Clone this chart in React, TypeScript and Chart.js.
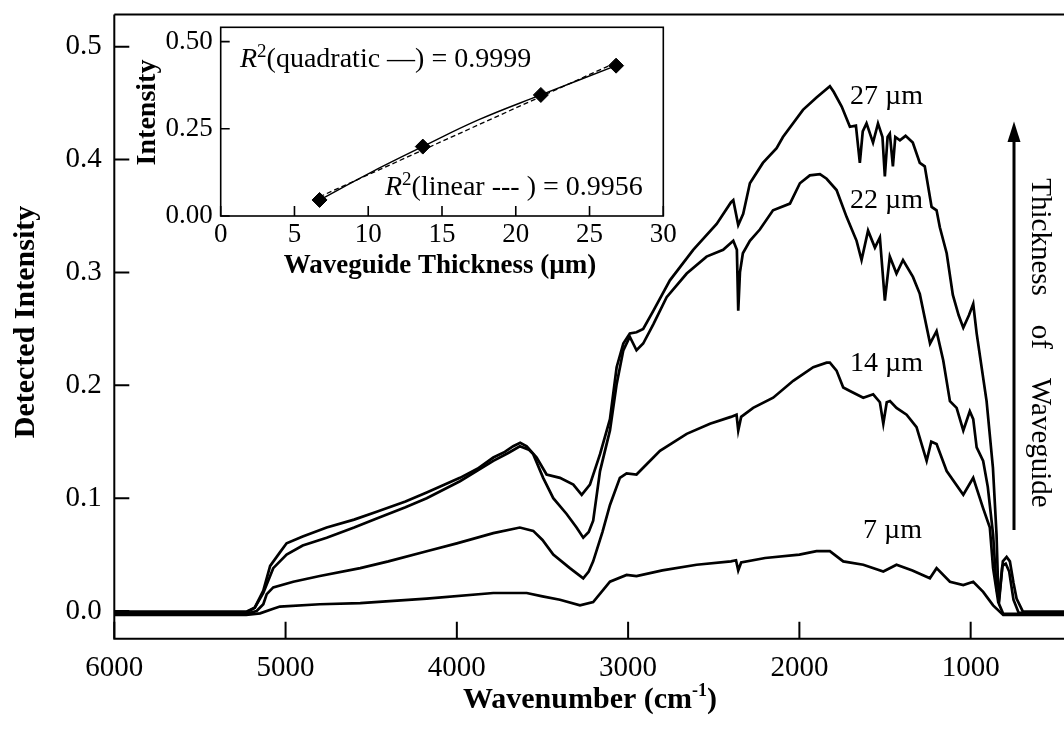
import React, { useEffect, useRef } from "react";
import { Chart, registerables } from "chart.js";

Chart.register(...registerables);

const SERIF = '"Liberation Serif", "Times New Roman", Times, serif';

// ---------- main spectra (wavenumber cm-1, detected intensity) ----------
const wn27 = [6000, 5230, 5180, 5130, 5090, 5033, 4994, 4900, 4760, 4600, 4468, 4300, 4176, 3982, 3880, 3787, 3720, 3671, 3630, 3592, 3534, 3476, 3398, 3320, 3271, 3223, 3164, 3106, 3067, 3028, 2990, 2951, 2912, 2853, 2756, 2620, 2483, 2400, 2386, 2357, 2328, 2289, 2213, 2133, 2096, 1979, 1900, 1822, 1800, 1753, 1705, 1670, 1647, 1630, 1608, 1570, 1541, 1515, 1501, 1485, 1472, 1454, 1440, 1413, 1380, 1338, 1297, 1268, 1228, 1199, 1180, 1140, 1104, 1070, 1043, 1010, 985, 965, 907, 870, 849, 840, 830, 812, 790, 771, 750, 732, 695, 455];
const int27 = [-0.0005, -0.0005, 0.003, 0.018, 0.04, 0.052, 0.06, 0.066, 0.074, 0.081, 0.088, 0.097, 0.105, 0.118, 0.126, 0.136, 0.141, 0.146, 0.149, 0.146, 0.136, 0.121, 0.118, 0.112, 0.103, 0.112, 0.139, 0.17, 0.216, 0.237, 0.246, 0.247, 0.25, 0.266, 0.293, 0.32, 0.343, 0.362, 0.364, 0.342, 0.352, 0.379, 0.397, 0.41, 0.42, 0.444, 0.455, 0.465, 0.46, 0.447, 0.429, 0.43, 0.397, 0.425, 0.432, 0.415, 0.432, 0.42, 0.385, 0.42, 0.423, 0.394, 0.42, 0.417, 0.421, 0.415, 0.397, 0.394, 0.358, 0.355, 0.34, 0.317, 0.28, 0.262, 0.251, 0.262, 0.272, 0.246, 0.186, 0.127, 0.068, 0.023, 0.015, 0.044, 0.048, 0.044, 0.025, 0.011, -0.0005, -0.0005];

const wn22 = [6000, 5230, 5180, 5130, 5072, 4994, 4900, 4760, 4600, 4468, 4300, 4176, 3982, 3787, 3700, 3632, 3580, 3554, 3496, 3437, 3359, 3301, 3262, 3230, 3204, 3164, 3106, 3067, 3028, 2990, 2951, 2912, 2853, 2775, 2658, 2542, 2445, 2386, 2365, 2357, 2347, 2330, 2289, 2231, 2154, 2055, 1997, 1939, 1880, 1841, 1783, 1724, 1666, 1637, 1599, 1559, 1530, 1501, 1472, 1433, 1395, 1337, 1297, 1237, 1199, 1160, 1121, 1082, 1043, 1005, 985, 965, 927, 900, 869, 849, 835, 815, 795, 775, 750, 720, 455];
const int22 = [-0.0015, -0.0015, 0.003, 0.016, 0.038, 0.05, 0.058, 0.065, 0.074, 0.082, 0.092, 0.1, 0.115, 0.133, 0.14, 0.146, 0.143, 0.139, 0.118, 0.1, 0.086, 0.074, 0.065, 0.07, 0.08, 0.124, 0.16, 0.201, 0.231, 0.243, 0.231, 0.237, 0.254, 0.278, 0.299, 0.314, 0.32, 0.328, 0.32, 0.266, 0.3, 0.317, 0.328, 0.338, 0.355, 0.361, 0.379, 0.386, 0.387, 0.383, 0.373, 0.349, 0.328, 0.311, 0.337, 0.322, 0.331, 0.275, 0.314, 0.299, 0.311, 0.296, 0.281, 0.237, 0.248, 0.222, 0.186, 0.18, 0.16, 0.177, 0.17, 0.145, 0.133, 0.11, 0.068, 0.02, 0.01, 0.04, 0.042, 0.035, 0.01, -0.0015, -0.0015];

const wn14 = [6000, 5230, 5169, 5130, 5110, 5072, 4955, 4800, 4564, 4400, 4176, 4000, 3787, 3632, 3554, 3500, 3437, 3340, 3262, 3230, 3204, 3150, 3106, 3048, 3009, 2951, 2912, 2814, 2658, 2522, 2400, 2367, 2357, 2340, 2270, 2153, 2036, 1919, 1841, 1822, 1783, 1744, 1705, 1627, 1569, 1530, 1510, 1490, 1471, 1433, 1374, 1316, 1257, 1230, 1199, 1140, 1043, 985, 927, 888, 869, 839, 810, 455];
const int14 = [-0.0025, -0.0025, 0.0, 0.006, 0.015, 0.021, 0.026, 0.031, 0.038, 0.044, 0.053, 0.06, 0.069, 0.074, 0.071, 0.063, 0.05, 0.038, 0.029, 0.035, 0.044, 0.07, 0.094, 0.118, 0.122, 0.121, 0.127, 0.142, 0.157, 0.166, 0.172, 0.174, 0.16, 0.172, 0.18, 0.189, 0.204, 0.216, 0.22, 0.22, 0.213, 0.198, 0.195, 0.189, 0.192, 0.185, 0.166, 0.185, 0.186, 0.18, 0.174, 0.163, 0.133, 0.15, 0.148, 0.124, 0.103, 0.118, 0.091, 0.074, 0.038, 0.008, -0.0025, -0.0025];

const wn7 = [6000, 5230, 5149, 5072, 5033, 4800, 4564, 4176, 3787, 3592, 3500, 3398, 3281, 3204, 3106, 3009, 2951, 2800, 2600, 2400, 2370, 2357, 2340, 2200, 2000, 1900, 1822, 1744, 1627, 1510, 1433, 1340, 1238, 1199, 1121, 1043, 985, 927, 869, 810, 455];
const int7 = [-0.0035, -0.0035, -0.002, 0.002, 0.004, 0.006, 0.007, 0.011, 0.016, 0.016, 0.013, 0.01, 0.005, 0.008, 0.026, 0.032, 0.031, 0.036, 0.041, 0.044, 0.045, 0.036, 0.043, 0.047, 0.05, 0.053, 0.053, 0.044, 0.041, 0.035, 0.041, 0.036, 0.029, 0.038, 0.026, 0.023, 0.026, 0.017, 0.005, -0.0035, -0.0035];

const seriesLabels = ["27 \u00B5m", "22 \u00B5m", "14 \u00B5m", "7 \u00B5m"];
const xTickValues = [6000, 5000, 4000, 3000, 2000, 1000];
const yTickValues = [0, 0.1, 0.2, 0.3, 0.4, 0.5];
const xMin = 455;
const xMax = 6000;
const yMin = -0.0245;
const yMax = 0.5285;

// ---------- inset ----------
const insetThickness = [6.7, 13.7, 21.7, 26.8];
const insetIntensity = [0.046, 0.199, 0.347, 0.431];
const quadFitX = [6.7, 10, 13.7, 17.5, 21.7, 26.8];
const quadFitY = [0.046, 0.121, 0.199, 0.276, 0.347, 0.431];
const linFitX = [6.7, 26.8];
const linFitY = [0.055, 0.44];
const insetXTickValues = [0, 5, 10, 15, 20, 25, 30];
const insetYTickValues = [0, 0.25, 0.5];
const insetXMin = 0;
const insetXMax = 30;
const insetYMin = 0;
const insetYMax = 0.541;

const pts = (xs: number[], ys: number[]) => xs.map((x, i) => ({ x, y: ys[i] }));
const setTicks = (vals: number[]) => (s: any) => {
  s.ticks = vals.map((v) => ({ value: v }));
};

type Run = [string, string, number?];
function drawRuns(ctx: CanvasRenderingContext2D, runs: Run[], x: number, y: number, align: "left" | "center") {
  let total = 0;
  for (const r of runs) {
    ctx.font = r[1];
    total += ctx.measureText(r[0]).width;
  }
  let cx = align === "center" ? x - total / 2 : x;
  ctx.textAlign = "left";
  ctx.textBaseline = "alphabetic";
  for (const r of runs) {
    ctx.font = r[1];
    ctx.fillText(r[0], cx, y + (r[2] || 0));
    cx += ctx.measureText(r[0]).width;
  }
}

const mainDecor = {
  id: "mainDecor",
  afterDraw(chart: any) {
    const { ctx, chartArea: a, scales } = chart;
    ctx.save();
    ctx.strokeStyle = "#000";
    ctx.fillStyle = "#000";
    ctx.lineWidth = 2;
    ctx.beginPath();
    ctx.moveTo(a.left, a.top);
    ctx.lineTo(a.right, a.top);
    ctx.moveTo(a.left, a.top);
    ctx.lineTo(a.left, a.bottom);
    ctx.lineTo(a.right, a.bottom);
    ctx.stroke();
    ctx.beginPath();
    scales.x.ticks.forEach((t: any) => {
      const p = scales.x.getPixelForValue(t.value);
      ctx.moveTo(p, a.bottom);
      ctx.lineTo(p, a.bottom - 17);
    });
    scales.y.ticks.forEach((t: any) => {
      const p = scales.y.getPixelForValue(t.value);
      ctx.moveTo(a.left, p);
      ctx.lineTo(a.left + 15, p);
    });
    ctx.stroke();

    // axis titles
    drawRuns(ctx, [["Wavenumber (cm", `bold 30px ${SERIF}`], ["-1", `bold 18px ${SERIF}`, -12], [")", `bold 30px ${SERIF}`]], 590, 708, "center");
    ctx.save();
    ctx.translate(34.4, 322);
    ctx.rotate(-Math.PI / 2);
    drawRuns(ctx, [["Detected Intensity", `bold 30px ${SERIF}`]], 0, 0, "center");
    ctx.restore();

    // series labels
    const lab: [number, number][] = [[850, 104.3], [850, 207.7], [850, 371], [863, 537.7]];
    seriesLabels.forEach((s, i) => {
      drawRuns(ctx, [[s, `28px ${SERIF}`]], lab[i][0], lab[i][1], "left");
    });

    // arrow
    ctx.lineWidth = 3;
    ctx.beginPath();
    ctx.moveTo(1014, 530);
    ctx.lineTo(1014, 136);
    ctx.stroke();
    ctx.beginPath();
    ctx.moveTo(1014, 121.5);
    ctx.lineTo(1007.5, 142);
    ctx.lineTo(1020.5, 142);
    ctx.closePath();
    ctx.fill();

    ctx.save();
    ctx.translate(1032, 343);
    ctx.rotate(Math.PI / 2);
    drawRuns(ctx, [["Thickness    of    Waveguide", `29px ${SERIF}`]], 0, 0, "center");
    ctx.restore();
    ctx.restore();
  },
};

const insetDecor = {
  id: "insetDecor",
  beforeDraw(chart: any) {
    const { ctx, chartArea: a } = chart;
    ctx.save();
    ctx.fillStyle = "#fff";
    ctx.fillRect(a.left, a.top, a.right - a.left, a.bottom - a.top);
    ctx.restore();
  },
  afterDraw(chart: any) {
    const { ctx, chartArea: a, scales } = chart;
    ctx.save();
    ctx.strokeStyle = "#000";
    ctx.fillStyle = "#000";
    ctx.lineWidth = 1.6;
    ctx.strokeRect(a.left, a.top, a.right - a.left, a.bottom - a.top);
    ctx.beginPath();
    scales.x.ticks.forEach((t: any) => {
      const p = scales.x.getPixelForValue(t.value);
      ctx.moveTo(p, a.bottom);
      ctx.lineTo(p, a.bottom - 10);
    });
    scales.y.ticks.forEach((t: any) => {
      const p = scales.y.getPixelForValue(t.value);
      ctx.moveTo(a.left, p);
      ctx.lineTo(a.left + 9, p);
    });
    ctx.stroke();

    drawRuns(ctx, [["Waveguide Thickness (\u00B5m)", `bold 27px ${SERIF}`]], 340, 273, "center");
    ctx.save();
    ctx.translate(55.4, 112.5);
    ctx.rotate(-Math.PI / 2);
    drawRuns(ctx, [["Intensity", `bold 28px ${SERIF}`]], 0, 0, "center");
    ctx.restore();

    drawRuns(ctx, [["R", `italic 28px ${SERIF}`], ["2", `19px ${SERIF}`, -10], ["(quadratic \u2014) = 0.9999", `28px ${SERIF}`]], 140, 66.5, "left");
    drawRuns(ctx, [["R", `italic 28px ${SERIF}`], ["2", `19px ${SERIF}`, -10], ["(linear --- ) = 0.9956", `28px ${SERIF}`]], 285, 195, "left");
    ctx.restore();
  },
};

export default function App() {
  const mainRef = useRef<HTMLCanvasElement>(null);
  const insetRef = useRef<HTMLCanvasElement>(null);

  useEffect(() => {
    const ds = (xs: number[], ys: number[]) => ({
      data: pts(xs, ys),
      borderColor: "#000",
      borderWidth: 2.7,
      pointRadius: 0,
      fill: false,
      tension: 0,
    });
    const noGrid = { display: false, drawTicks: false };
    const main = new Chart(mainRef.current as HTMLCanvasElement, {
      type: "line",
      data: {
        datasets: [ds(wn7, int7), ds(wn14, int14), ds(wn22, int22), ds(wn27, int27)],
      },
      options: {
        animation: false,
        responsive: false,
        maintainAspectRatio: false,
        layout: { padding: { top: 14.5, right: 0, left: 0, bottom: 0 } },
        plugins: { legend: { display: false }, tooltip: { enabled: false } },
        scales: {
          x: {
            type: "linear",
            reverse: true,
            min: xMin,
            max: xMax,
            grid: noGrid,
            border: { display: false },
            afterBuildTicks: setTicks(xTickValues),
            afterFit: (s: any) => {
              s.height = 90.3;
              s.paddingLeft = 0;
              s.paddingRight = 0;
            },
            ticks: {
              autoSkip: false,
              maxRotation: 0,
              minRotation: 0,
              color: "#000",
              padding: 12,
              font: { family: SERIF, size: 29 },
              callback: (v: any) => String(v),
            },
          },
          y: {
            type: "linear",
            min: yMin,
            max: yMax,
            grid: noGrid,
            border: { display: false },
            afterBuildTicks: setTicks(yTickValues),
            afterFit: (s: any) => {
              s.width = 114.3;
              s.paddingTop = 0;
              s.paddingBottom = 0;
            },
            ticks: {
              autoSkip: false,
              color: "#000",
              padding: 12.6,
              font: { family: SERIF, size: 29 },
              callback: (v: any) => Number(v).toFixed(1),
            },
          },
        },
      } as any,
      plugins: [mainDecor],
    });

    const inset = new Chart(insetRef.current as HTMLCanvasElement, {
      type: "line",
      data: {
        datasets: [
          { data: pts(quadFitX, quadFitY), borderColor: "#000", borderWidth: 1.4, pointRadius: 0, tension: 0.4, fill: false },
          { data: pts(linFitX, linFitY), borderColor: "#000", borderWidth: 1.3, borderDash: [5, 3], pointRadius: 0, fill: false },
          {
            data: pts(insetThickness, insetIntensity),
            showLine: false,
            pointStyle: "rectRot",
            pointRadius: 7.5,
            backgroundColor: "#000",
            borderColor: "#000",
          },
        ],
      },
      options: {
        animation: false,
        responsive: false,
        maintainAspectRatio: false,
        layout: { padding: { top: 27.3, right: 36.7, left: 0, bottom: 0 } },
        plugins: { legend: { display: false }, tooltip: { enabled: false } },
        scales: {
          x: {
            type: "linear",
            min: insetXMin,
            max: insetXMax,
            grid: noGrid,
            border: { display: false },
            afterBuildTicks: setTicks(insetXTickValues),
            afterFit: (s: any) => {
              s.height = 79;
              s.paddingLeft = 0;
              s.paddingRight = 0;
            },
            ticks: {
              autoSkip: false,
              maxRotation: 0,
              minRotation: 0,
              color: "#000",
              padding: 3,
              font: { family: SERIF, size: 27 },
            },
          },
          y: {
            type: "linear",
            min: insetYMin,
            max: insetYMax,
            grid: noGrid,
            border: { display: false },
            afterBuildTicks: setTicks(insetYTickValues),
            afterFit: (s: any) => {
              s.width = 120.7;
              s.paddingTop = 0;
              s.paddingBottom = 0;
            },
            ticks: {
              autoSkip: false,
              color: "#000",
              padding: 8,
              font: { family: SERIF, size: 27 },
              callback: (v: any) => Number(v).toFixed(2),
            },
          },
        },
      } as any,
      plugins: [insetDecor],
    });

    return () => {
      main.destroy();
      inset.destroy();
    };
  }, []);

  return (
    <div style={{ position: "fixed", left: 0, top: 0, width: 1064, height: 729, background: "#fff", overflow: "hidden" }}>
      <canvas ref={mainRef} width={1064} height={729} style={{ position: "absolute", left: 0, top: 0, width: 1064, height: 729 }} />
      <canvas ref={insetRef} width={600} height={295} style={{ position: "absolute", left: 100, top: 0, width: 600, height: 295 }} />
    </div>
  );
}
